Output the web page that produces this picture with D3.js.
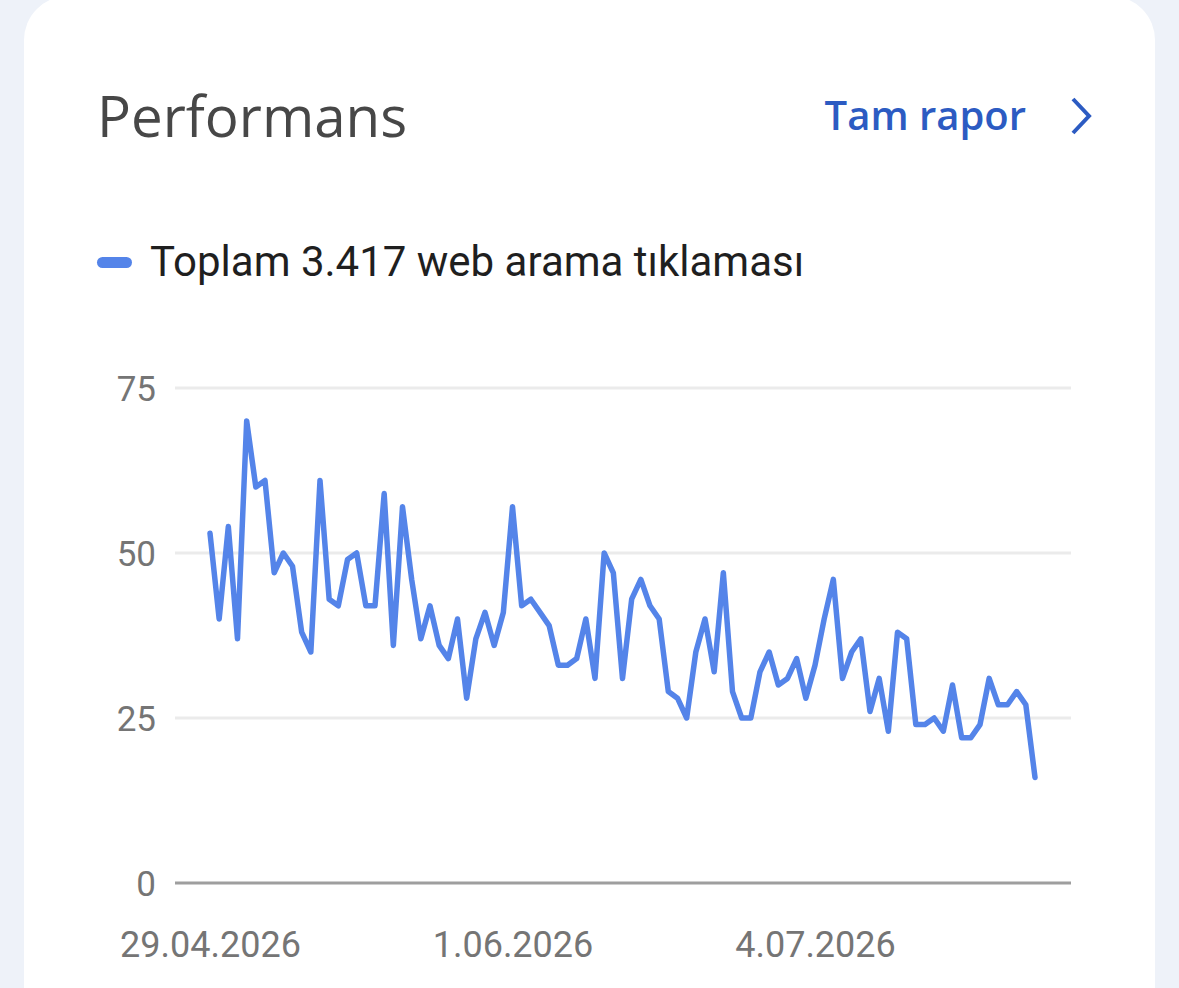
<!DOCTYPE html>
<html>
<head>
<meta charset="utf-8">
<script src="https://cdn.jsdelivr.net/npm/d3@7"></script>
<style>
  html, body { margin: 0; padding: 0; background: #eef2f9; }
  svg { display: block; }
</style>
</head>
<body>
<div id="chart"></div>
<script>
// daily clicks, 29.04.2026 .. 28.07.2026
var startDate = "2026-04-29";
var clicks = [
  53, 40, 54, 37, 70, 60, 61, 47, 50, 48,
  38, 35, 61, 43, 42, 49, 50, 42, 42, 59,
  36, 57, 46, 37, 42, 36, 34, 40, 28, 37,
  41, 36, 41, 57, 42, 43, 41, 39, 33, 33,
  34, 40, 31, 50, 47, 31, 43, 46, 42, 40,
  29, 28, 25, 35, 40, 32, 47, 29, 25, 25,
  32, 35, 30, 31, 34, 28, 33, 40, 46, 31,
  35, 37, 26, 31, 23, 38, 37, 24, 24, 25,
  23, 30, 22, 22, 24, 31, 27, 27, 29, 27, 16
];
var yTicks = [0, 25, 50, 75];
var xTickDates = ["2026-04-29", "2026-06-01", "2026-07-04"];
var legendLabel = "Toplam 3.417 web arama tıklaması";

var W = 1179, H = 988;
var parse = d3.timeParse("%Y-%m-%d");
var t0 = parse(startDate);
var data = clicks.map(function (v, i) {
  return { date: d3.timeDay.offset(t0, i), value: v };
});

var svg = d3.select("#chart").append("svg")
  .attr("width", W)
  .attr("height", H);

// card
svg.append("rect")
  .attr("x", 24).attr("y", -4)
  .attr("width", 1131).attr("height", H + 60)
  .attr("rx", 44)
  .attr("fill", "#ffffff");

// header
svg.append("text")
  .attr("x", 97).attr("y", 137)
  .attr("font-family", "'Open Sans', sans-serif")
  .attr("font-size", 56.5)
  .attr("fill", "#474747")
  .text("Performans");

svg.append("text")
  .attr("x", 1026).attr("y", 130)
  .attr("text-anchor", "end")
  .attr("font-family", "'Open Sans', sans-serif")
  .attr("font-weight", 600)
  .attr("font-size", 40)
  .attr("fill", "#2c5bc2")
  .text("Tam rapor");

svg.append("path")
  .attr("d", "M1073,99 L1089,116 L1073,133")
  .attr("fill", "none")
  .attr("stroke", "#2c5bc2")
  .attr("stroke-width", 4);

// legend
svg.append("rect")
  .attr("x", 97).attr("y", 257)
  .attr("width", 35).attr("height", 11)
  .attr("rx", 5.5)
  .attr("fill", "#5484e9");

svg.append("text")
  .attr("x", 150).attr("y", 276)
  .attr("font-family", "Roboto, sans-serif")
  .attr("font-size", 42)
  .attr("fill", "#1f1f1f")
  .text(legendLabel);

// scales
var x = d3.scaleTime()
  .domain([data[0].date, data[data.length - 1].date])
  .range([210, 1035]);

var y = d3.scaleLinear()
  .domain([0, 75])
  .range([883, 388]);

// grid
var grid = svg.append("g");
grid.selectAll("line")
  .data(yTicks)
  .enter()
  .append("line")
    .attr("x1", 175).attr("x2", 1071)
    .attr("y1", function (d) { return y(d); })
    .attr("y2", function (d) { return y(d); })
    .attr("stroke", function (d) { return d === 0 ? "#9e9e9e" : "#ebebeb"; })
    .attr("stroke-width", 3);

// Y axis labels
var yAxis = svg.append("g")
  .attr("transform", "translate(156,0)")
  .call(d3.axisLeft(y).tickValues(yTicks).tickSize(0).tickPadding(0));
yAxis.select(".domain").remove();
yAxis.selectAll("text")
  .attr("font-family", "Roboto, sans-serif")
  .attr("font-size", 35)
  .attr("fill", "#757575")
  .attr("dy", "0.36em");

// X axis labels
var xAxis = svg.append("g")
  .attr("transform", "translate(0,957)")
  .call(d3.axisBottom(x)
    .tickValues(xTickDates.map(parse))
    .tickFormat(d3.timeFormat("%-d.%m.%Y"))
    .tickSize(0).tickPadding(0));
xAxis.select(".domain").remove();
xAxis.selectAll("text")
  .attr("font-family", "Roboto, sans-serif")
  .attr("font-size", 36)
  .attr("fill", "#757575")
  .attr("dy", "0");

// line
var line = d3.line()
  .x(function (d) { return x(d.date); })
  .y(function (d) { return y(d.value); });

svg.append("path")
  .datum(data)
  .attr("d", line)
  .attr("fill", "none")
  .attr("stroke", "#5484e9")
  .attr("stroke-width", 5.5)
  .attr("stroke-linejoin", "round")
  .attr("stroke-linecap", "round");
</script>
</body>
</html>
